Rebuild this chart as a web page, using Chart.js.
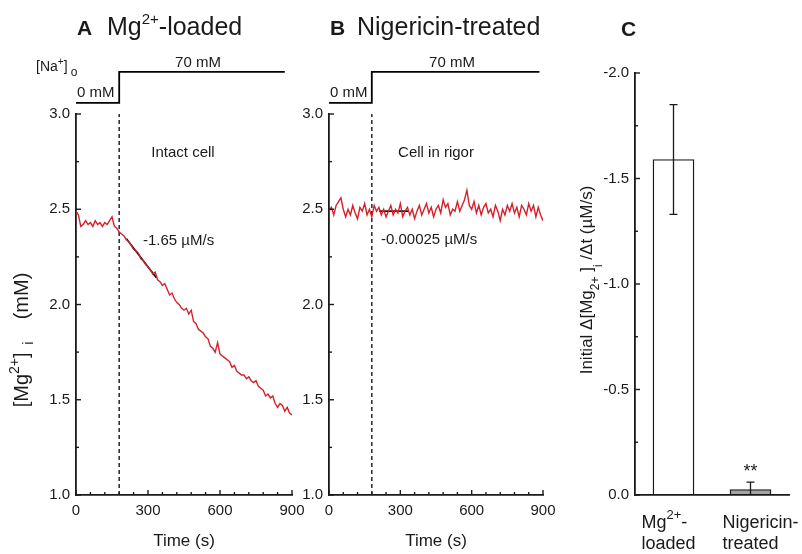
<!DOCTYPE html>
<html lang="en">
<head>
  <meta charset="UTF-8" />
  <title>Mg2+ efflux - Na+ dependence</title>
  <script src="https://cdn.jsdelivr.net/npm/chart.js"></script>
  <style>
    body { margin: 0; background: #fff; }
    .figura { position: relative; width: 802px; height: 554px; }
    .figura canvas { position: absolute; left: 0; top: 0; }
  </style>
</head>
<body>
  <div class="figura">
    <canvas id="chartA" width="802" height="554"></canvas>
    <canvas id="chartB" width="802" height="554"></canvas>
    <canvas id="chartC" width="802" height="554"></canvas>
  </div>

  <script>
    // --- datos ---
    const timeS = [0,10,20,30,40,50,60,70,80,90,
      100,110,120,130,140,150,160,170,180,190,
      200,210,220,230,240,250,260,270,280,290,
      300,310,320,330,340,350,360,370,380,390,
      400,410,420,430,440,450,460,470,480,490,
      500,510,520,530,540,550,560,570,580,590,
      600,610,620,630,640,650,660,670,680,690,
      700,710,720,730,740,750,760,770,780,790,
      800,810,820,830,840,850,860,870,880,890,
      900];

    // panel A: Mg2+-loaded, intact cell (mM)
    const mgLoaded = [2.49,2.47,2.41,2.42,2.44,2.42,2.43,2.41,2.44,2.42,
      2.43,2.41,2.43,2.42,2.44,2.46,2.41,2.40,2.38,2.37,
      2.36,2.34,2.33,2.31,2.29,2.28,2.27,2.24,2.23,2.21,
      2.20,2.18,2.16,2.17,2.13,2.12,2.10,2.11,2.08,2.05,
      2.06,2.03,2.01,2.00,1.98,1.97,1.98,1.95,1.97,1.91,
      1.90,1.87,1.86,1.85,1.83,1.82,1.78,1.77,1.75,1.80,
      1.74,1.73,1.72,1.71,1.70,1.67,1.68,1.65,1.64,1.63,
      1.63,1.61,1.62,1.60,1.59,1.60,1.57,1.56,1.55,1.52,
      1.53,1.51,1.52,1.48,1.46,1.48,1.47,1.44,1.46,1.43,
      1.42];

    // panel B: nigericin-treated, cell in rigor (mM)
    const mgRigor = [2.49,2.51,2.47,2.52,2.54,2.56,2.50,2.46,2.50,2.47,
      2.52,2.48,2.45,2.51,2.49,2.53,2.47,2.50,2.46,2.52,
      2.49,2.51,2.47,2.50,2.46,2.49,2.52,2.47,2.50,2.48,
      2.53,2.46,2.49,2.51,2.47,2.50,2.45,2.49,2.52,2.47,
      2.50,2.53,2.48,2.51,2.46,2.50,2.52,2.48,2.55,2.51,
      2.53,2.47,2.50,2.49,2.54,2.49,2.52,2.55,2.60,2.52,
      2.50,2.54,2.48,2.52,2.47,2.51,2.53,2.48,2.50,2.46,
      2.52,2.49,2.44,2.50,2.47,2.52,2.49,2.53,2.48,2.51,
      2.46,2.52,2.50,2.47,2.53,2.49,2.52,2.46,2.51,2.47,
      2.44];

    // rectas de ajuste inicial
    const fitTimeA = [210, 335];
    const fitMgA = [2.345, 2.14];
    const fitTimeB = [210, 335];
    const fitMgB = [2.49, 2.49];

    // protocolo [Na+]o (mM)
    const naTimeA = [0, 180, 180, 870];
    const naTimeB = [0, 180, 180, 885];
    const naLevel = [0, 0, 70, 70];
    const naSwitch = 180;

    // panel C
    const barGroups = ['Mg2+-loaded', 'Nigericin-treated'];
    const barRate = [-1.59, -0.026];
    const barSem = [0.26, 0.035];

    const RED = '#d6202a';
    const INK = '#1a1a1a';
    Chart.defaults.font.family = "'Liberation Sans', Arial, sans-serif";
    Chart.defaults.color = INK;

    function pts(xs, ys) {
      return xs.map((x, i) => ({ x: x, y: ys[i] }));
    }

    // texto con super/subindices: [{t, size, dy, bold}]
    function rich(ctx, parts, x, y, align) {
      let w = 0;
      parts.forEach(p => {
        ctx.font = (p.bold ? 'bold ' : '') + p.size + "px 'Liberation Sans', Arial, sans-serif";
        p.w = ctx.measureText(p.t).width;
        w += p.w;
      });
      let cx = align === 'center' ? x - w / 2 : (align === 'right' ? x - w : x);
      ctx.textAlign = 'left';
      ctx.textBaseline = 'alphabetic';
      parts.forEach(p => {
        ctx.font = (p.bold ? 'bold ' : '') + p.size + "px 'Liberation Sans', Arial, sans-serif";
        ctx.fillText(p.t, cx, y + (p.dy || 0));
        cx += p.w;
      });
    }

    // marcas de escala hacia adentro
    const innerTicks = {
      id: 'innerTicks',
      afterDraw(chart, args, opts) {
        const ctx = chart.ctx;
        ctx.save();
        ctx.strokeStyle = INK;
        ctx.lineWidth = 1.4;
        (opts.axes || []).forEach(id => {
          const s = chart.scales[id];
          s.ticks.forEach(t => {
            const p = s.getPixelForValue(t.value);
            const len = t.label !== '' ? 5 : 3;
            ctx.beginPath();
            if (s.isHorizontal()) { ctx.moveTo(p, s.top); ctx.lineTo(p, s.top - len); }
            else { ctx.moveTo(s.right, p); ctx.lineTo(s.right + len, p); }
            ctx.stroke();
          });
        });
        ctx.restore();
      }
    };

    // textos de cada panel
    const panelText = {
      id: 'panelText',
      afterDraw(chart, args, opts) {
        const ctx = chart.ctx;
        ctx.save();
        ctx.fillStyle = INK;
        opts.draw(ctx, chart);
        ctx.restore();
      }
    };

    function traceChart(id, left, right, trace, fitT, fitV, naT, draw) {
      return new Chart(document.getElementById(id), {
        type: 'line',
        data: {
          datasets: [
            { data: pts(timeS, trace), borderColor: RED, borderWidth: 1.4, pointRadius: 0, tension: 0 },
            { data: pts(fitT, fitV), borderColor: '#000', borderWidth: 1.6, pointRadius: 0 },
            { data: pts([naSwitch, naSwitch], [1, 3]), borderColor: '#333', borderWidth: 1.6, borderDash: [4, 3], pointRadius: 0 },
            { data: pts(naT, naLevel), yAxisID: 'yNa', borderColor: '#000', borderWidth: 1.8, pointRadius: 0, clip: false }
          ]
        },
        options: {
          responsive: false,
          animation: false,
          layout: { padding: { left: left - 76, right: 802 - right, top: 114, bottom: 554 - 495 - 30 } },
          plugins: {
            legend: { display: false },
            tooltip: { enabled: false },
            innerTicks: { axes: ['x', 'y'] },
            panelText: { draw: draw }
          },
          scales: {
            x: {
              type: 'linear', min: 0, max: 900,
              grid: { display: false, drawTicks: false },
              border: { color: INK, width: 1.8 },
              ticks: { stepSize: 60, autoSkip: false, maxRotation: 0, padding: 7, font: { size: 15 },
                callback: v => (v % 300 === 0 ? String(v) : '') },
              afterFit: s => { s.height = 30; }
            },
            y: {
              min: 1, max: 3,
              grid: { display: false, drawTicks: false },
              border: { color: INK, width: 1.8 },
              ticks: { stepSize: 0.25, autoSkip: false, padding: 6, font: { size: 15 },
                callback: v => (Math.abs(v * 2 - Math.round(v * 2)) < 1e-9 ? v.toFixed(1) : '') },
              afterFit: s => { s.width = 76; }
            },
            yNa: { display: false, min: -886, max: -25 }
          }
        },
        plugins: [innerTicks, panelText]
      });
    }

    traceChart('chartA', 76, 292, mgLoaded, fitTimeA, fitMgA, naTimeA, ctx => {
      rich(ctx, [{ t: 'A', size: 21, bold: true }], 77, 35, 'left');
      rich(ctx, [{ t: 'Mg', size: 25 }, { t: '2+', size: 15, dy: -11 }, { t: '-loaded', size: 25 }], 107, 35, 'left');
      rich(ctx, [{ t: '[Na', size: 14 }, { t: '+', size: 10, dy: -6 }, { t: ']', size: 14 }, { t: ' o', size: 12, dy: 5 }], 36, 71, 'left');
      rich(ctx, [{ t: '0 mM', size: 15 }], 77, 97, 'left');
      rich(ctx, [{ t: '70 mM', size: 15 }], 198, 67, 'center');
      rich(ctx, [{ t: 'Intact cell', size: 15 }], 183, 157, 'center');
      rich(ctx, [{ t: '-1.65 \u00b5M/s', size: 15 }], 143, 245, 'left');
      rich(ctx, [{ t: 'Time (s)', size: 17 }], 184, 546, 'center');
      ctx.translate(28, 340);
      ctx.rotate(-Math.PI / 2);
      rich(ctx, [{ t: '[Mg', size: 20 }, { t: '2+', size: 14, dy: -9 }, { t: ']', size: 20 },
        { t: '  i', size: 14, dy: 5 }, { t: '    (mM)', size: 20 }], 0, 0, 'center');
    });

    traceChart('chartB', 329, 543, mgRigor, fitTimeB, fitMgB, naTimeB, ctx => {
      rich(ctx, [{ t: 'B', size: 21, bold: true }], 330, 35, 'left');
      rich(ctx, [{ t: 'Nigericin-treated', size: 25 }], 357, 35, 'left');
      rich(ctx, [{ t: '0 mM', size: 15 }], 330, 97, 'left');
      rich(ctx, [{ t: '70 mM', size: 15 }], 452, 67, 'center');
      rich(ctx, [{ t: 'Cell in rigor', size: 15 }], 436, 157, 'center');
      rich(ctx, [{ t: '-0.00025 \u00b5M/s', size: 15 }], 381, 244, 'left');
      rich(ctx, [{ t: 'Time (s)', size: 17 }], 436, 546, 'center');
    });

    // barras de error
    const errorBars = {
      id: 'errorBars',
      afterDatasetsDraw(chart) {
        const ctx = chart.ctx;
        const y = chart.scales.y;
        const a = chart.chartArea;
        const meta = chart.getDatasetMeta(0);
        ctx.save();
        ctx.beginPath();
        ctx.rect(a.left, a.top - 2, a.right - a.left, a.bottom - a.top + 2);
        ctx.clip();
        ctx.strokeStyle = INK;
        ctx.lineWidth = 1.3;
        meta.data.forEach((bar, i) => {
          const top = y.getPixelForValue(barRate[i] - barSem[i]);
          const bot = y.getPixelForValue(barRate[i] + barSem[i]);
          ctx.beginPath();
          ctx.moveTo(bar.x, top); ctx.lineTo(bar.x, bot);
          ctx.moveTo(bar.x - 4, top); ctx.lineTo(bar.x + 4, top);
          ctx.moveTo(bar.x - 4, bot); ctx.lineTo(bar.x + 4, bot);
          ctx.stroke();
        });
        ctx.restore();
      }
    };

    new Chart(document.getElementById('chartC'), {
      type: 'bar',
      data: {
        labels: barGroups,
        datasets: [{
          data: barRate,
          backgroundColor: ['#ffffff', '#a4a4a4'],
          borderColor: INK,
          borderWidth: 1.4,
          borderSkipped: false,
          barThickness: 41
        }]
      },
      options: {
        responsive: false,
        animation: false,
        layout: { padding: { left: 0, right: 802 - 789, top: 73, bottom: 554 - 495 - 10 } },
        plugins: {
          legend: { display: false },
          tooltip: { enabled: false },
          innerTicks: { axes: ['y'] },
          panelText: {
            draw: (ctx, chart) => {
              const x = chart.scales.x;
              rich(ctx, [{ t: 'C', size: 21, bold: true }], 621, 36, 'left');
              const c0 = x.getPixelForValue(0);
              const c1 = x.getPixelForValue(1);
              rich(ctx, [{ t: 'Mg', size: 18 }, { t: '2+', size: 13, dy: -9 }, { t: '-', size: 18 }], c0 - 32, 528, 'left');
              rich(ctx, [{ t: 'loaded', size: 18 }], c0 - 32, 549, 'left');
              rich(ctx, [{ t: 'Nigericin-', size: 18 }], c1 - 28, 528, 'left');
              rich(ctx, [{ t: 'treated', size: 18 }], c1 - 28, 549, 'left');
              rich(ctx, [{ t: '**', size: 18 }], c1, 477, 'center');
              ctx.translate(592, 280);
              ctx.rotate(-Math.PI / 2);
              rich(ctx, [{ t: 'Initial \u0394[Mg', size: 17 }, { t: '2+', size: 12, dy: 7 }, { t: ' ]', size: 17 },
                { t: 'i', size: 12, dy: 10 }, { t: ' /\u0394t (\u00b5M/s)', size: 17 }], 0, 0, 'center');
            }
          }
        },
        scales: {
          x: {
            grid: { display: false, drawTicks: false },
            border: { color: INK, width: 1.8 },
            ticks: { display: false },
            afterFit: s => { s.height = 10; }
          },
          y: {
            min: -2, max: 0, reverse: true,
            grid: { display: false, drawTicks: false },
            border: { color: INK, width: 1.8 },
            ticks: { stepSize: 0.25, autoSkip: false, padding: 6, font: { size: 15 },
              callback: v => (Math.abs(v * 2 - Math.round(v * 2)) < 1e-9 ? v.toFixed(1) : '') },
            afterFit: s => { s.width = 635; }
          }
        }
      },
      plugins: [innerTicks, panelText, errorBars]
    });
  </script>
</body>
</html>
